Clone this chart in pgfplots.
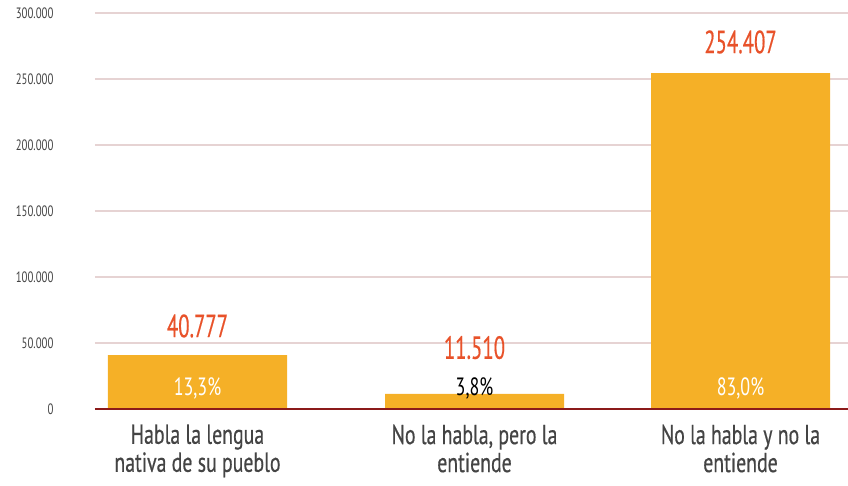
\documentclass[border=0pt]{standalone}
\usepackage{fontspec}
\setmainfont{PT Sans}[FakeStretch=0.72]
\newfontfamily\heavy{PT Sans}[FakeStretch=0.72, FakeBold=0.5]
\newfontfamily\heavyn{PT Sans}[FakeStretch=0.65, FakeBold=0.4]
\usepackage{pgfplots}
\pgfplotsset{compat=1.18}
\definecolor{barc}{HTML}{F5B027}
\definecolor{valc}{HTML}{E8522A}
\definecolor{gridc}{HTML}{E6D3D3}
\definecolor{zeroc}{HTML}{8B1A1A}
\definecolor{textc}{HTML}{444444}
\begin{document}
\begin{tikzpicture}
\begin{axis}[
  name=ax,
  scale only axis, width=753pt, height=396pt,
  xmin=95, xmax=848, ymin=0, ymax=300000,
  axis line style={draw=none},
  major tick length=0pt,
  ytick={0,50000,100000,150000,200000,250000,300000},
  ymajorgrids, grid style={gridc, line width=1.2pt},
  scaled y ticks=false,
  /pgf/number format/assume math mode=true,
  yticklabel style={/pgf/number format/fixed, /pgf/number format/1000 sep={.}, anchor=east, xshift=-38pt, text=textc, font=\fontsize{15}{17}\selectfont},
  xtick={197.5,474.5,740.5},
  xticklabels={{Habla la lengua\\nativa de su pueblo},{No la habla, pero la\\entiende},{No la habla y no la\\entiende}},
  xticklabel style={align=center, anchor=north, yshift=-12pt, text=textc, font=\heavy\fontsize{27.5}{28}\selectfont},
  clip=false,
]
\addplot[ybar, bar width=179, fill=barc, draw=none] coordinates {(197.5,40777) (474.5,11510) (740.5,254407)};
\draw[zeroc, line width=2pt] (axis cs:95,0) -- (axis cs:848,0);
\tikzset{vlab/.style={anchor=base, text=valc, font=\heavyn\fontsize{32}{33}\selectfont},
         plab/.style={anchor=base, font=\fontsize{25}{27}\selectfont}}
\node[vlab, yshift=18pt] at (axis cs:197.5,40777) {40.777};
\node[vlab, yshift=35pt] at (axis cs:474.5,11510) {11.510};
\node[vlab, yshift=20pt] at (axis cs:740.5,254407) {254.407};
\node[plab, text=white, yshift=13pt] at (axis cs:197.5,0) {13,3\%};
\node[plab, text=black, yshift=13pt] at (axis cs:474.5,0) {3,8\%};
\node[plab, text=white, yshift=13pt] at (axis cs:740.5,0) {83,0\%};
\end{axis}
\pgfresetboundingbox
\path ([xshift=-95pt,yshift=-77pt]ax.south west) rectangle ([yshift=13pt]ax.north east);
\end{tikzpicture}
\end{document}
